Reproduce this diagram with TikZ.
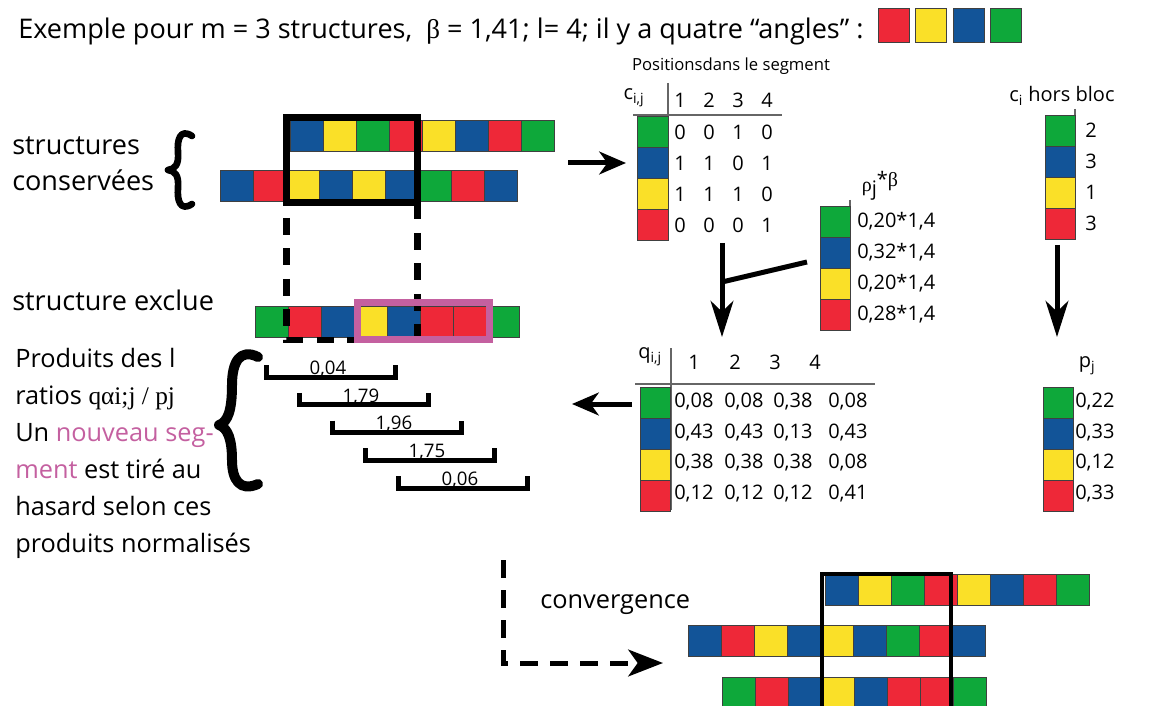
\documentclass[tikz,border=0pt]{standalone}
\usepackage{fontspec}
\setmainfont{Open Sans}
\newfontfamily\serif{Liberation Serif}
\usepackage{tikz}
\usetikzlibrary{arrows.meta}
\definecolor{cR}{RGB}{238,40,56}
\definecolor{cY}{RGB}{250,224,40}
\definecolor{cB}{RGB}{18,84,152}
\definecolor{cG}{RGB}{14,168,58}
\definecolor{pinkish}{RGB}{196,96,160}

\begin{document}
\begin{tikzpicture}[x=0.75pt, y=-0.75pt,
  cell/.style={draw=black!75, line width=0.6pt, minimum width=24.75pt, minimum height=23.25pt, inner sep=0pt},
  swatch/.style={cell, minimum width=22.5pt},
  lbl/.style={anchor=base west, inner sep=0pt, font=\fontsize{20.3}{24}\selectfont},
  txt/.style={lbl, font=\fontsize{19}{23}\selectfont},
  num/.style={inner sep=0pt, font=\fontsize{15}{18}\selectfont},
  smalltxt/.style={inner sep=0pt, font=\fontsize{12.5}{15}\selectfont},
  tline/.style={black!60, line width=1.1pt},
  arr/.style={-{Stealth[length=20pt, width=17pt, inset=6pt]}, line width=3.75pt},
  darr/.style={arr, -{Stealth[length=27pt, width=17pt, inset=8pt]}},
  blockframe/.style={line width=5.25pt},
  cut/.style={line width=5pt, dash pattern=on 12.75pt off 10.1pt},
  brk/.style={line width=3.75pt},
  curly/.style={line width=5pt, line cap=round, line join=round}]
\useasboundingbox (0,0) rectangle (1175,706);
\clip (0,0) rectangle (1175,706);

% title and the four angles
\node[lbl] (title) at (18,39) {Exemple pour m = 3 structures,\ \ {\serif β} = 1,41; l= 4; il y a quatre “angles” :};
\foreach \col/\nm [count=\i] in {cR/R,cY/Y,cB/B,cG/G}
  \node[cell, minimum width=23.25pt, minimum height=25.5pt, fill=\col] (sq\nm) at ({856+\i*37.5},25) {};

% conserved structures
\node[lbl] (cons1) at (12,155) {structures};
\node[lbl] (cons2) at (12,191) {conservées};
\draw[curly] (192,136) .. controls (180,128) and (177,140) .. (178,152) .. controls (179,165) and (175,169) .. (168,170) .. controls (175,171) and (179,175) .. (178,188) .. controls (177,200) and (180,212) .. (192,204);
\foreach \col [count=\i] in {cB,cY,cG,cR,cY,cB,cR,cG}
  \node[cell, fill=\col] (sa\i) at ({273.5+\i*33},136) {};
\foreach \col [count=\i] in {cB,cR,cY,cB,cY,cB,cG,cR,cB}
  \node[cell, fill=\col] (sb\i) at ({203.5+\i*33},185.5) {};
\draw[blockframe] (286.5,117.5) rectangle (417.5,202.5);

% excluded structure
\node[lbl] (excl) at (12,310) {structure exclue};
\foreach \col [count=\i] in {cG,cR,cB,cY,cB,cR,cR,cG}
  \node[cell, fill=\col] (ex\i) at ({238.5+\i*33},321.5) {};
\draw[cut, dash phase=13.9pt] (286.5,206) -- (286.5,340) -- (417.5,340);
\draw[cut] (417.5,202.5) -- (417.5,340);
\draw[pinkish, blockframe] (357.5,302.5) rectangle (489.5,339.5);

% c_ij table
\coordinate (a1s) at (568,163);
\coordinate (a1e) at (626,163);
\draw[arr] (a1s) -- (a1e);
\node[smalltxt] (pos) at (731,66) {Positionsdans le segment};
\node[num] (cij) at (634,98) {c\textsubscript{i,j}};
\draw[tline] (668,83) -- (668,240);
\draw[tline] (633,115) -- (782,115);
\foreach \h in {1,...,4}
  \node[num] (ch\h) at ({651+\h*29},100) {\h};
\foreach \col [count=\r] in {cG,cB,cY,cR}
  \node[swatch, minimum width=23.25pt, fill=\col] (cs\r) at (652.5,{101+\r*31}) {};
\foreach \row [count=\r] in {{0,0,1,0},{1,1,0,1},{1,1,1,0},{0,0,0,1}}
  \foreach \v [count=\c] in \row
    \node[num] (c-\r-\c) at ({651+\c*29},{101+\r*31}) {\v};

% rho_j * beta
\node[num] (rho) at (880,186) {{\serif ρ}\raisebox{-3pt}{j}\raisebox{4pt}{*{\serif β}}};
\draw[tline] (850,200) -- (850,206);
\foreach \col/\v [count=\r] in {cG/{0,20*1,4},cB/{0,32*1,4},cY/{0,20*1,4},cR/{0,28*1,4}} {
  \node[swatch, fill=\col] (rs\r) at (835.5,{190.5+\r*31}) {};
  \node[num, anchor=west] (rv\r) at (857,{190.5+\r*31}) {\v};
}

% c_i hors bloc
\node[num] (hb) at (1062,96) {c\textsubscript{i} hors bloc};
\draw[tline] (1075,109) -- (1075,115);
\foreach \col/\v [count=\r] in {cG/2,cB/3,cY/1,cR/3} {
  \node[swatch, fill=\col] (hs\r) at (1060,{99.5+\r*31}) {};
  \node[num, anchor=west] (hv\r) at (1085,{99.5+\r*31}) {\v};
}

% arrows down
\coordinate (a2s) at (722,243);
\coordinate (a2e) at (722,337);
\draw[darr] (a2s) -- (a2e);
\coordinate (j1) at (807,262);
\coordinate (j2) at (722,282);
\draw[brk] (j1) -- (j2);
\coordinate (a3s) at (1057,245);
\coordinate (a3e) at (1057,337);
\draw[darr] (a3s) -- (a3e);

% q_ij table
\node[num] (qij) at (650,357) {q\textsubscript{i,j}};
\draw[tline] (671,348) -- (671,510);
\draw[tline] (635,384) -- (875,384);
\foreach \h/\x in {1/694,2/735,3/775,4/815}
  \node[num] (qh\h) at (\x,362) {\h};
\foreach \col [count=\r] in {cG,cB,cY,cR}
  \node[swatch, fill=\col] (qs\r) at (655.5,{371.5+\r*31}) {};
\foreach \r/\a/\b/\c/\d in {1/{0,08}/{0,08}/{0,38}/{0,08},2/{0,43}/{0,43}/{0,13}/{0,43},3/{0,38}/{0,38}/{0,38}/{0,08},4/{0,12}/{0,12}/{0,12}/{0,41}} {
  \node[num, anchor=west] (q-\r-1) at (674,{371.5+\r*30.5}) {\a};
  \node[num, anchor=west] (q-\r-2) at (724,{371.5+\r*30.5}) {\b};
  \node[num, anchor=west] (q-\r-3) at (773,{371.5+\r*30.5}) {\c};
  \node[num, anchor=west] (q-\r-4) at (828,{371.5+\r*30.5}) {\d};
}
\coordinate (a4s) at (632,404);
\coordinate (a4e) at (572,404);
\draw[arr] (a4s) -- (a4e);

% p_j
\node[num] (pj) at (1087,366) {p\textsubscript{j}};
\foreach \col/\v [count=\r] in {cG/{0,22},cB/{0,33},cY/{0,12},cR/{0,33}} {
  \node[swatch, fill=\col] (ps\r) at (1058,{371.5+\r*31}) {};
  \node[num, anchor=west] (pv\r) at (1075,{371.5+\r*30.5}) {\v};
}

% products of ratios
\foreach \v [count=\i] in {{0,04},{1,79},{1,96},{1,75},{0,06}} {
  \draw[brk] ({233+\i*33},{337.25+\i*27.75}) -- ({233+\i*33},{349.25+\i*27.75}) -- ({362+\i*33},{349.25+\i*27.75}) -- ({362+\i*33},{337.25+\i*27.75});
  \node[smalltxt, font=\fontsize{14}{16}\selectfont, anchor=base] (pr\i) at ({295+\i*33},{346.5+\i*27.75}) {\v};
}
\draw[curly, line width=7.5pt] (258,357) .. controls (240,348) and (232,362) .. (232,385) .. controls (232,410) and (228,422) .. (219,425) .. controls (228,428) and (232,440) .. (232,460) .. controls (232,480) and (240,492) .. (258,484);
\node[txt] (ex1) at (15,367) {Produits des l};
\node[txt] (ex2) at (15,404) {ratios {\serif qαi;j / pj}};
\node[txt] (ex3) at (15,441) {Un \textcolor{pinkish}{nouveau seg-}};
\node[txt] (ex4) at (15,478) {\textcolor{pinkish}{ment} est tiré au};
\node[txt] (ex5) at (15,515) {hasard selon ces};
\node[txt] (ex6) at (15,552) {produits normalisés};

% convergence
\coordinate (cvs) at (503,560);
\coordinate (cvc) at (503,663);
\coordinate (cve) at (663,663);
\draw[line width=3.75pt, dash pattern=on 13.5pt off 9pt, -{Stealth[length=26pt, width=20pt, inset=7pt]}] (cvs) -- (cvc) -- (cve);
\node[txt] (conv) at (540,608) {convergence};
\foreach \col [count=\i] in {cB,cY,cG,cR,cY,cB,cR,cG}
  \node[cell, fill=\col] (ca\i) at ({808.5+\i*33},590) {};
\foreach \col [count=\i] in {cB,cR,cY,cB,cY,cB,cG,cR,cB}
  \node[cell, fill=\col] (cb\i) at ({671.5+\i*33},640.5) {};
\foreach \col [count=\i] in {cG,cR,cB,cY,cB,cR,cR,cG}
  \node[cell, fill=\col] (cc\i) at ({705.5+\i*33},692.5) {};
\draw[line width=3pt] (822,720) -- (822,574) -- (951,574) -- (951,720);
\end{tikzpicture}
\end{document}
